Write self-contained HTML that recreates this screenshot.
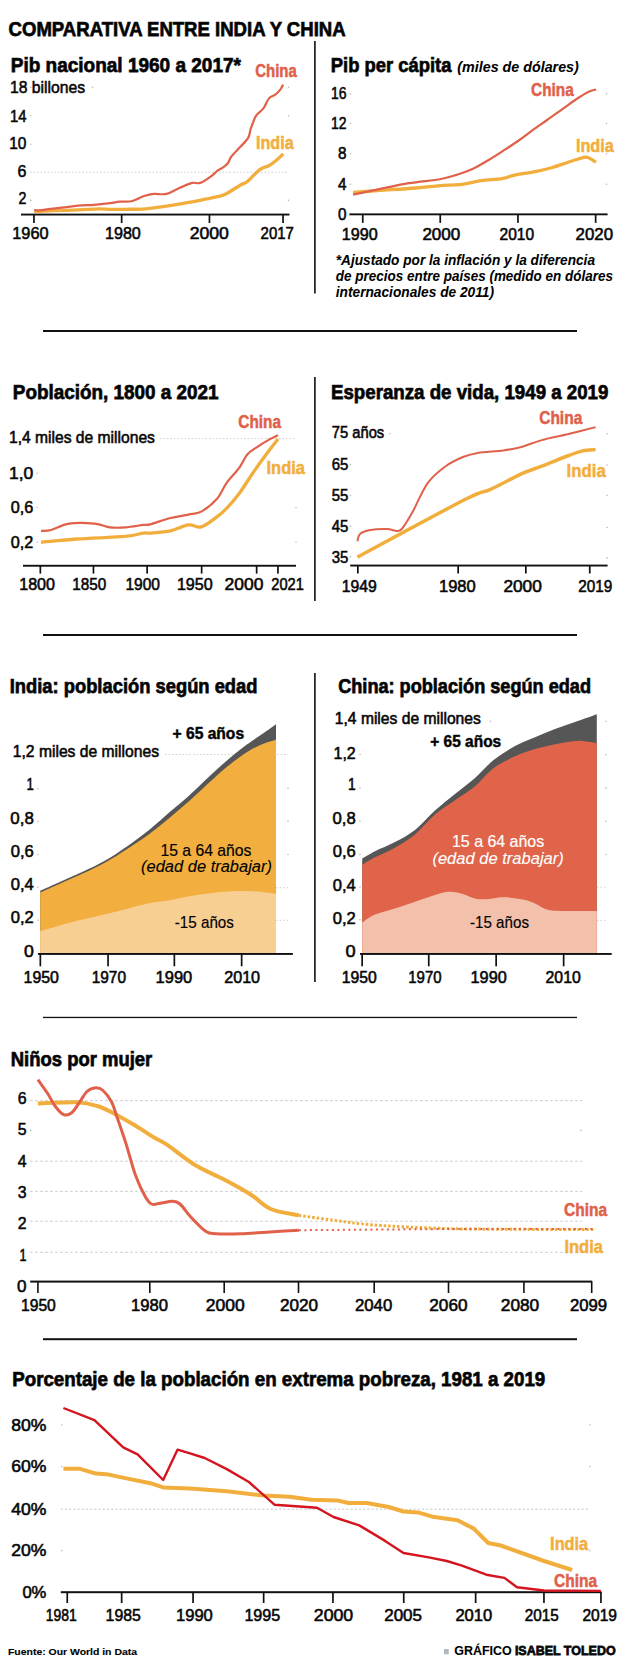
<!DOCTYPE html>
<html><head><meta charset="utf-8"><style>
html,body{margin:0;padding:0;background:#fff;}
svg{display:block;}
text{font-family:"Liberation Sans",sans-serif;}
</style></head><body>
<svg width="625" height="1667" viewBox="0 0 625 1667">
<rect width="625" height="1667" fill="#fff"/>
<text x="8.6" y="36.3" font-size="20.29" font-weight="700" textLength="337.0" lengthAdjust="spacingAndGlyphs" stroke="#111" stroke-width="0.75">COMPARATIVA ENTRE INDIA Y CHINA</text>
<rect x="314.1" y="41.0" width="1.6" height="252.5" fill="#111"/>
<rect x="43.0" y="330.0" width="534.0" height="2.0" fill="#111"/>
<rect x="314.1" y="377.0" width="1.6" height="224.0" fill="#111"/>
<rect x="43.0" y="634.0" width="534.0" height="2.0" fill="#111"/>
<rect x="314.1" y="673.0" width="1.6" height="309.0" fill="#111"/>
<rect x="43.0" y="1016.8" width="534.0" height="1.3" fill="#111"/>
<rect x="43.0" y="1338.2" width="534.0" height="2.0" fill="#111"/>
<text x="10.8" y="71.8" font-size="20.87" font-weight="700" textLength="230.1" lengthAdjust="spacingAndGlyphs" stroke="#111" stroke-width="0.75">Pib nacional 1960 a 2017*</text>
<text x="9.9" y="93.4" font-size="17.39" font-weight="400" textLength="75.2" lengthAdjust="spacingAndGlyphs" stroke="#111" stroke-width="0.6">18 billones</text>
<text x="9.9" y="122.1" font-size="17.10" font-weight="400" textLength="16.5" lengthAdjust="spacingAndGlyphs" stroke="#111" stroke-width="0.6">14</text>
<text x="9.2" y="149.0" font-size="17.10" font-weight="400" textLength="17.2" lengthAdjust="spacingAndGlyphs" stroke="#111" stroke-width="0.6">10</text>
<text x="17.5" y="176.8" font-size="17.10" font-weight="400" textLength="8.9" lengthAdjust="spacingAndGlyphs" stroke="#111" stroke-width="0.6">6</text>
<text x="18.5" y="204.1" font-size="17.10" font-weight="400" textLength="7.9" lengthAdjust="spacingAndGlyphs" stroke="#111" stroke-width="0.6">2</text>
<line x1="30" y1="172.3" x2="289" y2="172.3" stroke="#c4c4c4" stroke-width="0.8" stroke-dasharray="1.5,2"/>
<circle cx="30.7" cy="87.3" r="0.8" fill="#bbb"/>
<circle cx="30.7" cy="115.8" r="0.8" fill="#bbb"/>
<circle cx="30.7" cy="144.3" r="0.8" fill="#bbb"/>
<circle cx="30.7" cy="200.4" r="0.8" fill="#bbb"/>
<circle cx="288.5" cy="87.3" r="0.8" fill="#bbb"/>
<circle cx="288.5" cy="115.8" r="0.8" fill="#bbb"/>
<circle cx="288.5" cy="144.3" r="0.8" fill="#bbb"/>
<circle cx="288.5" cy="200.4" r="0.8" fill="#bbb"/>
<circle cx="92.5" cy="87.3" r="0.8" fill="#bbb"/>
<rect x="21.0" y="213.6" width="268.5" height="1.9" fill="#111"/>
<rect x="33.1" y="214.5" width="1.7" height="8.5" fill="#111"/>
<rect x="120.8" y="214.5" width="1.7" height="8.5" fill="#111"/>
<rect x="208.6" y="214.5" width="1.7" height="8.5" fill="#111"/>
<rect x="282.2" y="214.5" width="1.7" height="8.5" fill="#111"/>
<text x="12.3" y="238.8" font-size="16.52" font-weight="400" textLength="36.3" lengthAdjust="spacingAndGlyphs" stroke="#111" stroke-width="0.6">1960</text>
<text x="105.0" y="238.8" font-size="16.52" font-weight="400" textLength="35.8" lengthAdjust="spacingAndGlyphs" stroke="#111" stroke-width="0.6">1980</text>
<text x="189.7" y="238.8" font-size="16.52" font-weight="400" textLength="39.2" lengthAdjust="spacingAndGlyphs" stroke="#111" stroke-width="0.6">2000</text>
<text x="260.6" y="238.8" font-size="16.52" font-weight="400" textLength="33.3" lengthAdjust="spacingAndGlyphs" stroke="#111" stroke-width="0.6">2017</text>
<path d="M34.2,211.7 C37.5,211.5 46.7,211.0 54.0,210.7 C61.3,210.4 70.5,210.2 78.0,209.9 C85.5,209.6 93.5,208.9 98.8,208.8 C104.1,208.7 105.6,209.2 110.0,209.3 C114.4,209.4 119.0,209.4 125.0,209.3 C131.0,209.2 139.1,209.3 145.8,208.8 C152.5,208.3 157.8,207.5 165.0,206.4 C172.2,205.3 182.3,203.6 189.0,202.4 C195.7,201.2 200.2,200.2 205.0,199.2 C209.8,198.2 214.4,197.4 217.8,196.6 C221.2,195.8 221.4,196.2 225.2,194.3 C229.0,192.4 237.0,187.1 240.6,185.0 C244.2,182.9 243.8,184.4 247.0,181.8 C250.2,179.2 256.2,172.3 259.8,169.6 C263.4,166.9 266.2,167.2 268.8,165.8 C271.4,164.4 272.8,163.3 275.2,161.3 C277.6,159.3 281.9,155.1 283.2,153.8" fill="none" stroke="#f2ae3c" stroke-width="3.3" stroke-linejoin="round"/>
<path d="M34.2,210.1 C35.1,210.2 36.8,210.6 39.6,210.4 C42.4,210.2 47.1,209.2 50.8,208.8 C54.5,208.4 57.5,208.2 62.0,207.7 C66.5,207.2 72.7,206.1 78.0,205.6 C83.3,205.1 88.7,205.2 94.0,204.8 C99.3,204.4 105.7,203.7 110.0,203.2 C114.3,202.7 116.0,201.9 119.6,201.6 C123.2,201.3 127.3,202.2 131.4,201.3 C135.5,200.4 140.5,197.2 144.2,196.0 C147.9,194.8 150.1,194.2 153.8,193.9 C157.5,193.6 162.3,194.9 166.6,193.9 C170.9,192.9 175.1,189.8 179.4,188.0 C183.7,186.2 188.7,183.8 192.2,182.9 C195.7,182.1 197.0,184.1 200.2,182.9 C203.4,181.8 208.5,178.1 211.4,176.0 C214.3,173.9 215.9,171.8 217.8,170.4 C219.7,169.0 221.0,168.9 222.7,167.7 C224.4,166.5 226.3,165.1 227.8,163.2 C229.3,161.3 229.5,159.0 231.6,156.2 C233.7,153.4 237.8,149.7 240.6,146.6 C243.4,143.5 246.6,140.6 248.3,137.6 C250.0,134.6 249.5,132.2 250.8,128.6 C252.1,125.0 253.9,119.2 256.0,115.8 C258.1,112.4 261.5,111.1 263.6,108.2 C265.7,105.3 266.9,100.8 268.8,98.6 C270.7,96.3 273.3,96.2 275.2,94.7 C277.1,93.2 279.0,91.3 280.3,89.6 C281.6,87.9 282.7,85.4 283.2,84.6" fill="none" stroke="#e0604a" stroke-width="2.2" stroke-linejoin="round"/>
<text x="255.2" y="76.8" font-size="18.99" font-weight="700" textLength="41.6" lengthAdjust="spacingAndGlyphs" fill="#e0604a" stroke="#e0604a" stroke-width="0.5">China</text>
<text x="256.0" y="149.1" font-size="18.99" font-weight="700" textLength="37.7" lengthAdjust="spacingAndGlyphs" fill="#f2ae3c" stroke="#f2ae3c" stroke-width="0.5">India</text>
<text x="330.8" y="72.0" font-size="20.87" font-weight="700" textLength="120.7" lengthAdjust="spacingAndGlyphs" stroke="#111" stroke-width="0.75">Pib per cápita</text>
<text x="457.3" y="71.5" font-size="14.49" font-weight="700" font-style="italic" textLength="121.5" lengthAdjust="spacingAndGlyphs" stroke="#111" stroke-width="0.05">(miles de dólares)</text>
<text x="331.0" y="98.7" font-size="16.38" font-weight="400" textLength="15.5" lengthAdjust="spacingAndGlyphs" stroke="#111" stroke-width="0.6">16</text>
<text x="331.0" y="129.2" font-size="16.38" font-weight="400" textLength="15.5" lengthAdjust="spacingAndGlyphs" stroke="#111" stroke-width="0.6">12</text>
<text x="338.0" y="159.4" font-size="16.38" font-weight="400" textLength="8.5" lengthAdjust="spacingAndGlyphs" stroke="#111" stroke-width="0.6">8</text>
<text x="338.0" y="190.0" font-size="16.38" font-weight="400" textLength="8.5" lengthAdjust="spacingAndGlyphs" stroke="#111" stroke-width="0.6">4</text>
<text x="338.0" y="220.0" font-size="16.38" font-weight="400" textLength="8.5" lengthAdjust="spacingAndGlyphs" stroke="#111" stroke-width="0.6">0</text>
<circle cx="350.5" cy="93.9" r="0.8" fill="#bbb"/>
<circle cx="606.5" cy="93.9" r="0.8" fill="#bbb"/>
<circle cx="350.5" cy="123.5" r="0.8" fill="#bbb"/>
<circle cx="606.5" cy="123.5" r="0.8" fill="#bbb"/>
<circle cx="350.5" cy="153.7" r="0.8" fill="#bbb"/>
<circle cx="606.5" cy="153.7" r="0.8" fill="#bbb"/>
<circle cx="350.5" cy="184.3" r="0.8" fill="#bbb"/>
<circle cx="606.5" cy="184.3" r="0.8" fill="#bbb"/>
<rect x="349.4" y="213.4" width="258.2" height="1.9" fill="#111"/>
<rect x="361.9" y="214.4" width="1.7" height="8.5" fill="#111"/>
<rect x="439.4" y="214.4" width="1.7" height="8.5" fill="#111"/>
<rect x="517.1" y="214.4" width="1.7" height="8.5" fill="#111"/>
<rect x="594.8" y="214.4" width="1.7" height="8.5" fill="#111"/>
<text x="341.8" y="239.6" font-size="16.52" font-weight="400" textLength="35.8" lengthAdjust="spacingAndGlyphs" stroke="#111" stroke-width="0.6">1990</text>
<text x="422.4" y="239.6" font-size="16.52" font-weight="400" textLength="37.9" lengthAdjust="spacingAndGlyphs" stroke="#111" stroke-width="0.6">2000</text>
<text x="499.6" y="239.6" font-size="16.52" font-weight="400" textLength="34.5" lengthAdjust="spacingAndGlyphs" stroke="#111" stroke-width="0.6">2010</text>
<text x="575.6" y="239.6" font-size="16.52" font-weight="400" textLength="37.4" lengthAdjust="spacingAndGlyphs" stroke="#111" stroke-width="0.6">2020</text>
<path d="M353.1,192.3 C357.6,192.0 369.5,191.1 380.0,190.4 C390.5,189.7 406.0,188.8 416.0,188.0 C426.0,187.2 432.7,186.2 440.0,185.6 C447.3,185.0 453.1,185.4 460.0,184.6 C466.9,183.8 474.1,181.7 481.1,180.7 C488.1,179.7 496.5,179.6 502.2,178.6 C507.9,177.6 509.7,176.1 515.4,174.9 C521.1,173.7 530.4,172.6 536.6,171.4 C542.8,170.2 547.1,169.0 552.4,167.5 C557.7,166.0 562.9,163.9 568.2,162.2 C573.5,160.5 580.6,158.1 584.1,157.4 C587.6,156.7 587.4,157.4 589.4,158.2 C591.4,159.0 594.9,161.5 596.0,162.2" fill="none" stroke="#f2ae3c" stroke-width="3.3" stroke-linejoin="round"/>
<path d="M353.1,194.6 C357.1,193.8 367.7,191.5 377.0,189.6 C386.3,187.7 398.3,185.0 409.0,183.2 C419.7,181.4 432.5,180.6 441.0,179.0 C449.5,177.4 454.7,175.5 460.0,173.8 C465.3,172.1 468.2,171.1 473.0,168.8 C477.8,166.5 483.7,163.0 489.0,159.8 C494.3,156.6 499.9,152.9 505.0,149.6 C510.1,146.3 514.7,143.3 519.4,140.0 C524.1,136.7 528.4,133.1 533.0,129.8 C537.6,126.5 541.7,123.8 547.1,120.0 C552.5,116.2 560.3,110.5 565.6,106.8 C570.9,103.0 574.8,100.1 578.8,97.5 C582.8,94.9 586.5,92.7 589.4,91.4 C592.3,90.1 595.1,89.8 596.2,89.5" fill="none" stroke="#e0604a" stroke-width="2.2" stroke-linejoin="round"/>
<text x="531.1" y="95.6" font-size="18.84" font-weight="700" textLength="42.7" lengthAdjust="spacingAndGlyphs" fill="#e0604a" stroke="#e0604a" stroke-width="0.5">China</text>
<text x="575.9" y="152.4" font-size="18.84" font-weight="700" textLength="37.9" lengthAdjust="spacingAndGlyphs" fill="#f2ae3c" stroke="#f2ae3c" stroke-width="0.5">India</text>
<text x="335.8" y="265.4" font-size="14.93" font-weight="700" font-style="italic" textLength="259.2" lengthAdjust="spacingAndGlyphs" stroke="#111" stroke-width="0.05">*Ajustado por la inflación y la diferencia</text>
<text x="335.8" y="281.0" font-size="14.93" font-weight="700" font-style="italic" textLength="277.2" lengthAdjust="spacingAndGlyphs" stroke="#111" stroke-width="0.05">de precios entre países (medido en dólares</text>
<text x="335.8" y="296.5" font-size="14.93" font-weight="700" font-style="italic" textLength="158.2" lengthAdjust="spacingAndGlyphs" stroke="#111" stroke-width="0.05">internacionales de 2011)</text>
<text x="12.8" y="398.5" font-size="20.43" font-weight="700" textLength="205.8" lengthAdjust="spacingAndGlyphs" stroke="#111" stroke-width="0.75">Población, 1800 a 2021</text>
<text x="9.0" y="443.0" font-size="16.81" font-weight="400" textLength="145.9" lengthAdjust="spacingAndGlyphs" stroke="#111" stroke-width="0.6">1,4 miles de millones</text>
<line x1="160" y1="438.6" x2="296" y2="438.6" stroke="#c4c4c4" stroke-width="0.8" stroke-dasharray="1.5,2"/>
<text x="9.0" y="478.9" font-size="16.67" font-weight="400" textLength="24.3" lengthAdjust="spacingAndGlyphs" stroke="#111" stroke-width="0.6">1,0</text>
<circle cx="37.1" cy="473.2" r="0.8" fill="#bbb"/>
<circle cx="296" cy="473.2" r="0.8" fill="#bbb"/>
<text x="10.8" y="513.2" font-size="16.67" font-weight="400" textLength="22.5" lengthAdjust="spacingAndGlyphs" stroke="#111" stroke-width="0.6">0,6</text>
<circle cx="37.1" cy="507.5" r="0.8" fill="#bbb"/>
<circle cx="296" cy="507.5" r="0.8" fill="#bbb"/>
<text x="10.8" y="548.0" font-size="16.67" font-weight="400" textLength="22.5" lengthAdjust="spacingAndGlyphs" stroke="#111" stroke-width="0.6">0,2</text>
<circle cx="37.1" cy="542.3" r="0.8" fill="#bbb"/>
<circle cx="296" cy="542.3" r="0.8" fill="#bbb"/>
<rect x="23.0" y="564.8" width="273.0" height="1.9" fill="#111"/>
<rect x="39.5" y="565.6" width="1.7" height="8.0" fill="#111"/>
<rect x="92.6" y="565.6" width="1.7" height="8.0" fill="#111"/>
<rect x="146.3" y="565.6" width="1.7" height="8.0" fill="#111"/>
<rect x="200.8" y="565.6" width="1.7" height="8.0" fill="#111"/>
<rect x="255.8" y="565.6" width="1.7" height="8.0" fill="#111"/>
<rect x="277.1" y="565.6" width="1.7" height="8.0" fill="#111"/>
<text x="19.2" y="589.6" font-size="16.52" font-weight="400" textLength="35.8" lengthAdjust="spacingAndGlyphs" stroke="#111" stroke-width="0.6">1800</text>
<text x="72.2" y="589.6" font-size="16.52" font-weight="400" textLength="34.0" lengthAdjust="spacingAndGlyphs" stroke="#111" stroke-width="0.6">1850</text>
<text x="125.4" y="589.6" font-size="16.52" font-weight="400" textLength="34.6" lengthAdjust="spacingAndGlyphs" stroke="#111" stroke-width="0.6">1900</text>
<text x="176.9" y="589.6" font-size="16.52" font-weight="400" textLength="35.8" lengthAdjust="spacingAndGlyphs" stroke="#111" stroke-width="0.6">1950</text>
<text x="224.6" y="589.6" font-size="16.52" font-weight="400" textLength="38.8" lengthAdjust="spacingAndGlyphs" stroke="#111" stroke-width="0.6">2000</text>
<text x="271.3" y="589.6" font-size="16.52" font-weight="400" textLength="32.6" lengthAdjust="spacingAndGlyphs" stroke="#111" stroke-width="0.6">2021</text>
<path d="M41.0,542.3 C47.0,541.8 62.7,540.0 76.8,539.0 C90.9,538.0 114.3,537.4 125.4,536.4 C136.5,535.4 139.3,533.6 143.4,533.1 C147.5,532.6 145.5,533.5 150.0,533.1 C154.5,532.7 164.1,532.2 170.5,530.8 C176.9,529.4 183.3,525.5 188.4,524.9 C193.5,524.2 196.5,528.2 201.2,526.9 C205.9,525.6 212.3,520.3 216.6,517.2 C220.9,514.1 223.0,512.2 226.8,508.2 C230.6,504.1 235.3,498.6 239.6,492.9 C243.9,487.1 248.1,479.9 252.4,473.7 C256.7,467.5 260.9,461.6 265.2,455.8 C269.5,450.0 275.9,441.9 278.0,439.1" fill="none" stroke="#f2ae3c" stroke-width="3.3" stroke-linejoin="round"/>
<path d="M41.0,530.8 C42.7,530.7 46.5,531.2 51.2,530.0 C55.9,528.8 61.8,524.7 69.1,523.6 C76.3,522.5 87.9,523.0 94.7,523.6 C101.5,524.2 105.0,526.8 110.1,527.4 C115.2,528.0 119.9,527.8 125.4,527.4 C131.0,527.0 139.3,525.4 143.4,524.9 C147.5,524.4 145.5,525.5 150.0,524.4 C154.5,523.2 164.1,519.6 170.5,518.0 C176.9,516.4 183.3,515.7 188.4,514.6 C193.5,513.5 196.5,514.1 201.2,511.6 C205.9,509.1 212.3,504.1 216.6,499.3 C220.9,494.5 223.0,487.9 226.8,482.6 C230.6,477.3 236.2,472.0 239.6,467.3 C243.0,462.6 244.3,457.9 247.3,454.5 C250.3,451.1 254.1,449.2 257.5,446.8 C260.9,444.4 264.4,442.3 267.8,440.4 C271.2,438.5 276.3,436.1 278.0,435.3" fill="none" stroke="#e0604a" stroke-width="2.2" stroke-linejoin="round"/>
<text x="238.3" y="427.8" font-size="18.84" font-weight="700" textLength="42.7" lengthAdjust="spacingAndGlyphs" fill="#e0604a" stroke="#e0604a" stroke-width="0.5">China</text>
<text x="266.5" y="474.0" font-size="18.84" font-weight="700" textLength="38.5" lengthAdjust="spacingAndGlyphs" fill="#f2ae3c" stroke="#f2ae3c" stroke-width="0.5">India</text>
<text x="331.0" y="399.0" font-size="20.43" font-weight="700" textLength="277.4" lengthAdjust="spacingAndGlyphs" stroke="#111" stroke-width="0.75">Esperanza de vida, 1949 a 2019</text>
<text x="331.8" y="438.0" font-size="15.94" font-weight="400" textLength="52.4" lengthAdjust="spacingAndGlyphs" stroke="#111" stroke-width="0.6">75 años</text>
<circle cx="389.9" cy="433.7" r="0.8" fill="#bbb"/>
<text x="331.8" y="470.1" font-size="16.23" font-weight="400" textLength="16.6" lengthAdjust="spacingAndGlyphs" stroke="#111" stroke-width="0.6">65</text>
<circle cx="350.5" cy="464.5" r="0.8" fill="#bbb"/>
<text x="331.8" y="500.9" font-size="16.23" font-weight="400" textLength="16.6" lengthAdjust="spacingAndGlyphs" stroke="#111" stroke-width="0.6">55</text>
<circle cx="350.5" cy="495.3" r="0.8" fill="#bbb"/>
<text x="331.8" y="531.7" font-size="16.23" font-weight="400" textLength="16.6" lengthAdjust="spacingAndGlyphs" stroke="#111" stroke-width="0.6">45</text>
<circle cx="350.5" cy="526.1" r="0.8" fill="#bbb"/>
<text x="331.8" y="562.5" font-size="16.23" font-weight="400" textLength="16.6" lengthAdjust="spacingAndGlyphs" stroke="#111" stroke-width="0.6">35</text>
<circle cx="350.5" cy="556.9" r="0.8" fill="#bbb"/>
<circle cx="607" cy="433.7" r="0.8" fill="#bbb"/>
<circle cx="607" cy="465" r="0.8" fill="#bbb"/>
<circle cx="607" cy="495.3" r="0.8" fill="#bbb"/>
<circle cx="607" cy="527.5" r="0.8" fill="#bbb"/>
<circle cx="607" cy="557.9" r="0.8" fill="#bbb"/>
<rect x="350.2" y="564.6" width="257.4" height="1.9" fill="#111"/>
<rect x="357.0" y="565.5" width="1.7" height="8.0" fill="#111"/>
<rect x="457.3" y="565.5" width="1.7" height="8.0" fill="#111"/>
<rect x="525.0" y="565.5" width="1.7" height="8.0" fill="#111"/>
<rect x="588.9" y="565.5" width="1.7" height="8.0" fill="#111"/>
<text x="341.8" y="591.8" font-size="16.52" font-weight="400" textLength="35.0" lengthAdjust="spacingAndGlyphs" stroke="#111" stroke-width="0.6">1949</text>
<text x="439.0" y="591.8" font-size="16.52" font-weight="400" textLength="36.7" lengthAdjust="spacingAndGlyphs" stroke="#111" stroke-width="0.6">1980</text>
<text x="503.4" y="591.8" font-size="16.52" font-weight="400" textLength="38.4" lengthAdjust="spacingAndGlyphs" stroke="#111" stroke-width="0.6">2000</text>
<text x="578.2" y="591.8" font-size="16.52" font-weight="400" textLength="34.0" lengthAdjust="spacingAndGlyphs" stroke="#111" stroke-width="0.6">2019</text>
<path d="M357.4,557.1 C375.3,547.5 442.8,510.8 465.0,499.5 C487.2,488.2 481.2,493.6 490.6,489.3 C500.0,485.0 512.8,477.8 521.3,473.9 C529.8,470.0 534.1,469.2 541.8,466.2 C549.5,463.2 560.6,458.6 567.4,456.0 C574.2,453.4 578.1,452.0 582.8,450.9 C587.5,449.8 593.5,449.8 595.6,449.6" fill="none" stroke="#f2ae3c" stroke-width="3.5" stroke-linejoin="round"/>
<path d="M357.4,541.3 C357.8,540.1 358.0,536.0 359.9,534.1 C361.8,532.2 364.4,531.1 368.9,530.2 C373.4,529.4 382.1,528.9 386.8,529.0 C391.5,529.1 394.4,531.1 397.0,531.0 C399.6,530.9 399.6,531.6 402.2,528.5 C404.8,525.4 408.1,519.9 412.4,512.3 C416.7,504.7 422.2,490.6 427.8,482.9 C433.4,475.2 439.7,470.5 445.7,466.2 C451.7,461.9 458.2,459.0 463.6,456.8 C469.0,454.6 471.2,454.0 477.8,452.9 C484.4,451.8 496.1,451.4 503.4,450.4 C510.6,449.4 514.9,448.7 521.3,447.0 C527.7,445.3 534.1,442.2 541.8,440.1 C549.5,438.0 558.4,436.4 567.4,434.2 C576.4,432.0 590.9,428.3 595.6,427.1" fill="none" stroke="#e0604a" stroke-width="2" stroke-linejoin="round"/>
<text x="539.2" y="424.2" font-size="18.84" font-weight="700" textLength="43.1" lengthAdjust="spacingAndGlyphs" fill="#e0604a" stroke="#e0604a" stroke-width="0.5">China</text>
<text x="566.6" y="476.6" font-size="18.84" font-weight="700" textLength="39.2" lengthAdjust="spacingAndGlyphs" fill="#f2ae3c" stroke="#f2ae3c" stroke-width="0.5">India</text>
<text x="9.7" y="692.8" font-size="20.43" font-weight="700" textLength="247.8" lengthAdjust="spacingAndGlyphs" stroke="#111" stroke-width="0.75">India: población según edad</text>
<text x="12.8" y="757.0" font-size="16.81" font-weight="400" textLength="146.2" lengthAdjust="spacingAndGlyphs" stroke="#111" stroke-width="0.6">1,2 miles de millones</text>
<line x1="165" y1="754.5" x2="288.2" y2="754.5" stroke="#c4c4c4" stroke-width="0.8" stroke-dasharray="1.5,2"/>
<text x="26.5" y="790.0" font-size="16.81" font-weight="400" textLength="7.3" lengthAdjust="spacingAndGlyphs" stroke="#111" stroke-width="0.6">1</text>
<text x="10.3" y="823.6" font-size="16.81" font-weight="400" textLength="23.5" lengthAdjust="spacingAndGlyphs" stroke="#111" stroke-width="0.6">0,8</text>
<text x="10.8" y="856.7" font-size="16.81" font-weight="400" textLength="23.0" lengthAdjust="spacingAndGlyphs" stroke="#111" stroke-width="0.6">0,6</text>
<text x="10.8" y="889.7" font-size="16.81" font-weight="400" textLength="23.0" lengthAdjust="spacingAndGlyphs" stroke="#111" stroke-width="0.6">0,4</text>
<text x="10.8" y="923.4" font-size="16.81" font-weight="400" textLength="23.0" lengthAdjust="spacingAndGlyphs" stroke="#111" stroke-width="0.6">0,2</text>
<text x="24.0" y="957.0" font-size="16.81" font-weight="400" textLength="9.8" lengthAdjust="spacingAndGlyphs" stroke="#111" stroke-width="0.6">0</text>
<circle cx="37.9" cy="788.8" r="0.8" fill="#bbb"/>
<circle cx="37.9" cy="821.8" r="0.8" fill="#bbb"/>
<circle cx="37.9" cy="854.5" r="0.8" fill="#bbb"/>
<circle cx="37.9" cy="887.2" r="0.8" fill="#bbb"/>
<circle cx="37.9" cy="920.3" r="0.8" fill="#bbb"/>
<circle cx="288" cy="788.4" r="0.8" fill="#bbb"/>
<circle cx="288" cy="821" r="0.8" fill="#bbb"/>
<circle cx="288" cy="854.5" r="0.8" fill="#bbb"/>
<line x1="276" y1="887.7" x2="288" y2="887.7" stroke="#c4c4c4" stroke-width="0.8" stroke-dasharray="1.5,2"/>
<line x1="276" y1="920.3" x2="288" y2="920.3" stroke="#c4c4c4" stroke-width="0.8" stroke-dasharray="1.5,2"/>
<path d="M40.2,890.8 C43.6,889.3 53.3,885.0 60.4,881.8 C67.5,878.6 75.3,875.3 82.8,871.8 C90.3,868.3 97.7,864.9 105.2,860.6 C112.7,856.3 120.1,851.2 127.6,846.0 C135.1,840.8 142.9,834.9 150.0,829.2 C157.1,823.5 163.5,817.4 170.0,811.8 C176.5,806.2 182.8,801.2 189.2,795.4 C195.6,789.6 202.0,783.1 208.4,777.2 C214.8,771.3 221.2,765.3 227.6,759.9 C234.0,754.5 241.0,748.9 246.8,744.6 C252.6,740.3 257.3,737.4 262.2,734.0 C267.1,730.6 273.7,725.8 276.0,724.2 L276.0,953.5 L40.2,953.5 Z" fill="#565656"/>
<path d="M40.2,892.6 C43.6,891.1 53.3,886.8 60.4,883.6 C67.5,880.4 75.3,877.1 82.8,873.6 C90.3,870.1 97.7,866.7 105.2,862.6 C112.7,858.5 120.1,853.6 127.6,848.8 C135.1,843.9 142.9,838.7 150.0,833.5 C157.1,828.3 163.5,822.9 170.0,817.5 C176.5,812.1 182.8,806.7 189.2,801.0 C195.6,795.3 202.0,789.1 208.4,783.3 C214.8,777.5 221.2,771.5 227.6,766.3 C234.0,761.1 241.0,756.0 246.8,752.3 C252.6,748.6 257.3,746.4 262.2,744.3 C267.1,742.2 273.7,740.5 276.0,739.8 L276.0,953.5 L40.2,953.5 Z" fill="#f2ae3e"/>
<path d="M40.2,931.1 C45.4,929.6 60.8,925.0 71.6,922.2 C82.4,919.4 95.9,916.5 105.2,914.3 C114.5,912.0 120.1,910.6 127.6,908.7 C135.1,906.8 142.9,904.5 150.0,903.1 C157.1,901.7 163.5,901.3 170.0,900.2 C176.5,899.1 182.8,897.4 189.2,896.3 C195.6,895.2 202.0,894.2 208.4,893.4 C214.8,892.6 221.2,891.9 227.6,891.5 C234.0,891.1 241.0,891.0 246.8,891.1 C252.6,891.2 257.3,891.5 262.2,892.0 C267.1,892.5 273.7,893.7 276.0,894.0 L276.0,953.5 L40.2,953.5 Z" fill="#f8cf92"/>
<rect x="37.9" y="953.0" width="255.0" height="1.9" fill="#111"/>
<rect x="39.5" y="953.8" width="1.7" height="12.5" fill="#111"/>
<rect x="107.2" y="953.8" width="1.7" height="12.5" fill="#111"/>
<rect x="173.5" y="953.8" width="1.7" height="12.5" fill="#111"/>
<rect x="240.8" y="953.8" width="1.7" height="12.5" fill="#111"/>
<text x="23.6" y="982.8" font-size="16.52" font-weight="400" textLength="35.3" lengthAdjust="spacingAndGlyphs" stroke="#111" stroke-width="0.6">1950</text>
<text x="91.7" y="982.8" font-size="16.52" font-weight="400" textLength="34.3" lengthAdjust="spacingAndGlyphs" stroke="#111" stroke-width="0.6">1970</text>
<text x="155.6" y="982.8" font-size="16.52" font-weight="400" textLength="36.6" lengthAdjust="spacingAndGlyphs" stroke="#111" stroke-width="0.6">1990</text>
<text x="224.2" y="982.8" font-size="16.52" font-weight="400" textLength="35.9" lengthAdjust="spacingAndGlyphs" stroke="#111" stroke-width="0.6">2010</text>
<text x="172.5" y="738.5" font-size="15.65" font-weight="700" textLength="71.6" lengthAdjust="spacingAndGlyphs" stroke="#111" stroke-width="0.5">+ 65 años</text>
<text x="160.4" y="855.9" font-size="16.96" font-weight="400" textLength="91.1" lengthAdjust="spacingAndGlyphs" stroke="#111" stroke-width="0.2">15 a 64 años</text>
<text x="141.0" y="872.3" font-size="16.23" font-weight="400" font-style="italic" textLength="131.0" lengthAdjust="spacingAndGlyphs" stroke="#111" stroke-width="0.1">(edad de trabajar)</text>
<text x="174.8" y="928.0" font-size="16.96" font-weight="400" textLength="59.1" lengthAdjust="spacingAndGlyphs" stroke="#111" stroke-width="0.2">-15 años</text>
<text x="338.2" y="692.6" font-size="20.43" font-weight="700" textLength="252.8" lengthAdjust="spacingAndGlyphs" stroke="#111" stroke-width="0.75">China: población según edad</text>
<text x="334.8" y="724.0" font-size="16.23" font-weight="400" textLength="146.0" lengthAdjust="spacingAndGlyphs" stroke="#111" stroke-width="0.6">1,4 miles de millones</text>
<circle cx="490.4" cy="721.2" r="0.8" fill="#bbb"/>
<text x="333.5" y="758.7" font-size="16.81" font-weight="400" textLength="22.2" lengthAdjust="spacingAndGlyphs" stroke="#111" stroke-width="0.6">1,2</text>
<text x="348.0" y="789.6" font-size="16.81" font-weight="400" textLength="7.7" lengthAdjust="spacingAndGlyphs" stroke="#111" stroke-width="0.6">1</text>
<text x="332.5" y="824.3" font-size="16.81" font-weight="400" textLength="23.2" lengthAdjust="spacingAndGlyphs" stroke="#111" stroke-width="0.6">0,8</text>
<text x="332.7" y="856.8" font-size="16.81" font-weight="400" textLength="23.0" lengthAdjust="spacingAndGlyphs" stroke="#111" stroke-width="0.6">0,6</text>
<text x="332.7" y="890.6" font-size="16.81" font-weight="400" textLength="23.0" lengthAdjust="spacingAndGlyphs" stroke="#111" stroke-width="0.6">0,4</text>
<text x="332.7" y="923.7" font-size="16.81" font-weight="400" textLength="23.0" lengthAdjust="spacingAndGlyphs" stroke="#111" stroke-width="0.6">0,2</text>
<text x="345.6" y="956.9" font-size="16.81" font-weight="400" textLength="10.1" lengthAdjust="spacingAndGlyphs" stroke="#111" stroke-width="0.6">0</text>
<circle cx="360" cy="754.5" r="0.8" fill="#bbb"/>
<circle cx="360" cy="788" r="0.8" fill="#bbb"/>
<circle cx="360" cy="821.3" r="0.8" fill="#bbb"/>
<circle cx="360" cy="854.5" r="0.8" fill="#bbb"/>
<circle cx="360" cy="887" r="0.8" fill="#bbb"/>
<circle cx="360" cy="919.8" r="0.8" fill="#bbb"/>
<circle cx="606" cy="721.2" r="0.8" fill="#bbb"/>
<circle cx="606" cy="754.7" r="0.8" fill="#bbb"/>
<circle cx="606" cy="787.9" r="0.8" fill="#bbb"/>
<circle cx="606" cy="821.3" r="0.8" fill="#bbb"/>
<circle cx="606" cy="854.5" r="0.8" fill="#bbb"/>
<line x1="597" y1="887.2" x2="606" y2="887.2" stroke="#c4c4c4" stroke-width="0.8" stroke-dasharray="1.5,2"/>
<line x1="597" y1="920.6" x2="606" y2="920.6" stroke="#c4c4c4" stroke-width="0.8" stroke-dasharray="1.5,2"/>
<path d="M362.2,858.5 C364.3,857.3 369.5,854.0 375.0,851.2 C380.5,848.5 388.3,845.5 395.0,842.0 C401.7,838.5 408.3,835.2 415.0,830.0 C421.7,824.8 428.3,816.5 435.0,810.5 C441.7,804.5 448.3,799.4 455.0,794.0 C461.7,788.6 468.7,783.6 475.0,778.0 C481.3,772.4 486.3,765.8 493.0,760.5 C499.7,755.2 508.0,749.9 515.0,746.0 C522.0,742.1 528.3,740.0 535.0,737.2 C541.7,734.4 548.3,731.5 555.0,729.0 C561.7,726.5 568.0,724.5 575.0,722.0 C582.0,719.5 593.2,715.5 596.8,714.2 L596.8,953.5 L362.2,953.5 Z" fill="#565656"/>
<path d="M362.2,864.8 C364.3,863.5 369.5,860.1 375.0,857.3 C380.5,854.4 388.3,851.5 395.0,847.7 C401.7,843.9 408.3,840.0 415.0,834.5 C421.7,829.0 428.3,820.2 435.0,814.5 C441.7,808.8 448.3,805.0 455.0,800.3 C461.7,795.6 468.7,791.6 475.0,786.3 C481.3,781.0 486.3,773.5 493.0,768.5 C499.7,763.5 508.0,759.5 515.0,756.3 C522.0,753.0 528.3,751.0 535.0,749.0 C541.7,747.0 548.3,745.5 555.0,744.2 C561.7,742.9 570.3,741.5 575.0,741.0 C579.7,740.5 579.4,740.6 583.0,740.9 C586.6,741.2 594.5,742.6 596.8,743.0 L596.8,953.5 L362.2,953.5 Z" fill="#e0644a"/>
<path d="M362.2,922.5 C364.3,921.2 369.5,916.8 375.0,914.5 C380.5,912.2 388.3,910.6 395.0,908.5 C401.7,906.4 408.3,904.0 415.0,901.8 C421.7,899.5 429.3,896.7 435.0,895.0 C440.7,893.3 444.7,892.0 449.0,891.8 C453.3,891.5 456.7,892.4 461.0,893.5 C465.3,894.6 470.7,897.5 475.0,898.5 C479.3,899.5 482.3,899.4 487.0,899.2 C491.7,899.0 497.0,897.2 503.0,897.2 C509.0,897.2 517.7,898.5 523.0,899.5 C528.3,900.5 531.0,901.8 535.0,903.5 C539.0,905.2 542.3,908.2 547.0,909.5 C551.7,910.8 554.7,910.8 563.0,911.0 C571.3,911.2 591.2,911.0 596.8,911.0 L596.8,953.5 L362.2,953.5 Z" fill="#f3c1ab"/>
<rect x="360.0" y="953.0" width="251.7" height="1.9" fill="#111"/>
<rect x="361.3" y="953.8" width="1.7" height="12.5" fill="#111"/>
<rect x="427.9" y="953.8" width="1.7" height="12.5" fill="#111"/>
<rect x="495.3" y="953.8" width="1.7" height="12.5" fill="#111"/>
<rect x="562.8" y="953.8" width="1.7" height="12.5" fill="#111"/>
<text x="341.8" y="982.8" font-size="16.52" font-weight="400" textLength="35.0" lengthAdjust="spacingAndGlyphs" stroke="#111" stroke-width="0.6">1950</text>
<text x="408.3" y="982.8" font-size="16.52" font-weight="400" textLength="33.3" lengthAdjust="spacingAndGlyphs" stroke="#111" stroke-width="0.6">1970</text>
<text x="470.6" y="982.8" font-size="16.52" font-weight="400" textLength="36.1" lengthAdjust="spacingAndGlyphs" stroke="#111" stroke-width="0.6">1990</text>
<text x="545.6" y="982.8" font-size="16.52" font-weight="400" textLength="35.1" lengthAdjust="spacingAndGlyphs" stroke="#111" stroke-width="0.6">2010</text>
<text x="430.3" y="746.8" font-size="15.94" font-weight="700" textLength="70.9" lengthAdjust="spacingAndGlyphs" stroke="#111" stroke-width="0.5">+ 65 años</text>
<text x="452.0" y="847.4" font-size="16.96" font-weight="400" textLength="92.2" lengthAdjust="spacingAndGlyphs" fill="#fff" stroke="#fff" stroke-width="0.2">15 a 64 años</text>
<text x="432.4" y="863.8" font-size="16.23" font-weight="400" font-style="italic" textLength="131.4" lengthAdjust="spacingAndGlyphs" fill="#fff" stroke="#fff" stroke-width="0.1">(edad de trabajar)</text>
<text x="470.0" y="928.0" font-size="16.96" font-weight="400" textLength="59.0" lengthAdjust="spacingAndGlyphs" stroke="#111" stroke-width="0.2">-15 años</text>
<text x="10.8" y="1065.7" font-size="20.43" font-weight="700" textLength="141.5" lengthAdjust="spacingAndGlyphs" stroke="#111" stroke-width="0.75">Niños por mujer</text>
<line x1="30.2" y1="1100.6" x2="582" y2="1100.6" stroke="#c4c4c4" stroke-width="0.9" stroke-dasharray="2.5,2.5"/>
<line x1="30.2" y1="1161.2" x2="582" y2="1161.2" stroke="#c4c4c4" stroke-width="0.9" stroke-dasharray="2.5,2.5"/>
<line x1="30.2" y1="1191.4" x2="582" y2="1191.4" stroke="#c4c4c4" stroke-width="0.9" stroke-dasharray="2.5,2.5"/>
<line x1="30.2" y1="1221.2" x2="582" y2="1221.2" stroke="#c4c4c4" stroke-width="0.9" stroke-dasharray="2.5,2.5"/>
<line x1="30.2" y1="1252.3" x2="582" y2="1252.3" stroke="#c4c4c4" stroke-width="0.9" stroke-dasharray="2.5,2.5"/>
<circle cx="30.7" cy="1130.4" r="0.8" fill="#bbb"/>
<text x="17.7" y="1103.9" font-size="17.39" font-weight="400" textLength="8.8" lengthAdjust="spacingAndGlyphs" stroke="#111" stroke-width="0.6">6</text>
<text x="17.7" y="1134.8" font-size="17.39" font-weight="400" textLength="8.8" lengthAdjust="spacingAndGlyphs" stroke="#111" stroke-width="0.6">5</text>
<text x="17.7" y="1167.0" font-size="17.39" font-weight="400" textLength="8.8" lengthAdjust="spacingAndGlyphs" stroke="#111" stroke-width="0.6">4</text>
<text x="17.7" y="1197.9" font-size="17.39" font-weight="400" textLength="8.8" lengthAdjust="spacingAndGlyphs" stroke="#111" stroke-width="0.6">3</text>
<text x="17.7" y="1228.8" font-size="17.39" font-weight="400" textLength="8.8" lengthAdjust="spacingAndGlyphs" stroke="#111" stroke-width="0.6">2</text>
<text x="19.5" y="1260.9" font-size="17.39" font-weight="400" textLength="7.0" lengthAdjust="spacingAndGlyphs" stroke="#111" stroke-width="0.6">1</text>
<text x="17.0" y="1291.8" font-size="17.39" font-weight="400" textLength="9.5" lengthAdjust="spacingAndGlyphs" stroke="#111" stroke-width="0.6">0</text>
<rect x="30.2" y="1280.6" width="561.8" height="2.0" fill="#111"/>
<rect x="37.1" y="1281.0" width="1.6" height="12.0" fill="#111"/>
<rect x="149.0" y="1281.0" width="1.6" height="12.0" fill="#111"/>
<rect x="223.4" y="1281.0" width="1.6" height="12.0" fill="#111"/>
<rect x="297.7" y="1281.0" width="1.6" height="12.0" fill="#111"/>
<rect x="373.4" y="1281.0" width="1.6" height="12.0" fill="#111"/>
<rect x="447.7" y="1281.0" width="1.6" height="12.0" fill="#111"/>
<rect x="523.1" y="1281.0" width="1.6" height="12.0" fill="#111"/>
<rect x="590.9" y="1281.0" width="1.6" height="12.0" fill="#111"/>
<text x="21.0" y="1311.2" font-size="16.52" font-weight="400" textLength="34.8" lengthAdjust="spacingAndGlyphs" stroke="#111" stroke-width="0.6">1950</text>
<text x="131.0" y="1311.2" font-size="16.52" font-weight="400" textLength="37.0" lengthAdjust="spacingAndGlyphs" stroke="#111" stroke-width="0.6">1980</text>
<text x="205.8" y="1311.2" font-size="16.52" font-weight="400" textLength="38.9" lengthAdjust="spacingAndGlyphs" stroke="#111" stroke-width="0.6">2000</text>
<text x="280.0" y="1311.2" font-size="16.52" font-weight="400" textLength="38.0" lengthAdjust="spacingAndGlyphs" stroke="#111" stroke-width="0.6">2020</text>
<text x="355.0" y="1311.2" font-size="16.52" font-weight="400" textLength="37.2" lengthAdjust="spacingAndGlyphs" stroke="#111" stroke-width="0.6">2040</text>
<text x="429.3" y="1311.2" font-size="16.52" font-weight="400" textLength="38.2" lengthAdjust="spacingAndGlyphs" stroke="#111" stroke-width="0.6">2060</text>
<text x="500.8" y="1311.2" font-size="16.52" font-weight="400" textLength="38.4" lengthAdjust="spacingAndGlyphs" stroke="#111" stroke-width="0.6">2080</text>
<text x="570.0" y="1311.2" font-size="16.52" font-weight="400" textLength="37.1" lengthAdjust="spacingAndGlyphs" stroke="#111" stroke-width="0.6">2099</text>
<path d="M37.9,1103.5 C44.4,1103.3 66.9,1101.8 76.8,1102.2 C86.7,1102.6 90.9,1104.0 97.3,1106.0 C103.7,1108.0 108.8,1110.9 115.2,1114.2 C121.6,1117.5 129.3,1122.0 135.7,1125.8 C142.1,1129.6 148.4,1134.2 153.6,1137.3 C158.8,1140.4 160.0,1140.0 166.9,1144.6 C173.8,1149.2 185.6,1159.2 195.0,1165.0 C204.4,1170.8 213.8,1174.1 223.2,1179.1 C232.6,1184.1 243.5,1190.0 251.4,1195.0 C259.3,1200.0 262.8,1205.6 270.7,1209.0 C278.6,1212.4 294.2,1214.3 298.9,1215.4" fill="none" stroke="#f2ae3c" stroke-width="4" stroke-linejoin="round"/>
<path d="M37.9,1079.7 C39.6,1082.1 45.1,1089.6 48.0,1094.0 C50.9,1098.4 52.4,1102.6 55.0,1106.0 C57.6,1109.4 60.8,1113.5 63.6,1114.6 C66.4,1115.7 69.3,1114.7 72.0,1112.5 C74.7,1110.3 77.5,1105.0 80.0,1101.5 C82.5,1098.0 84.4,1093.8 87.0,1091.5 C89.6,1089.2 92.9,1088.0 95.6,1087.8 C98.3,1087.6 100.3,1088.1 103.0,1090.5 C105.7,1092.9 109.1,1097.1 111.6,1102.0 C114.1,1106.9 115.6,1113.1 118.0,1120.0 C120.4,1126.9 123.1,1134.3 126.0,1143.6 C128.9,1152.9 132.4,1166.8 135.6,1175.6 C138.8,1184.4 142.5,1191.7 145.2,1196.4 C147.9,1201.1 149.1,1202.8 151.6,1204.0 C154.1,1205.2 156.5,1203.8 160.0,1203.3 C163.5,1202.8 169.1,1201.1 172.4,1201.2 C175.7,1201.3 176.8,1201.2 180.0,1204.0 C183.2,1206.8 187.2,1213.2 191.5,1217.8 C195.8,1222.4 201.9,1228.9 206.0,1231.6 C210.1,1234.2 210.4,1233.3 216.2,1233.7 C222.0,1234.1 231.8,1234.0 240.8,1233.7 C249.8,1233.4 260.3,1232.6 270.0,1232.0 C279.7,1231.4 294.1,1230.5 298.9,1230.2" fill="none" stroke="#e0604a" stroke-width="3" stroke-linejoin="round"/>
<path d="M298.9,1215.4 C304.8,1216.2 321.5,1218.7 334.0,1220.3 C346.5,1221.9 355.0,1223.6 374.0,1225.0 C393.0,1226.4 423.7,1227.9 448.0,1228.6 C472.3,1229.3 495.7,1229.1 520.0,1229.3 C544.3,1229.5 581.3,1229.5 593.6,1229.6" fill="none" stroke="#f2ae3c" stroke-width="3" stroke-linejoin="round" stroke-dasharray="2.5,2"/>
<circle cx="581" cy="1130.4" r="0.8" fill="#bbb"/>
<polyline points="298.9,1230.2 450.0,1229.0 593.6,1229.0" fill="none" stroke="#e0604a" stroke-width="2" stroke-linejoin="round" stroke-linecap="butt" stroke-dasharray="2,3.5"/>
<text x="564.0" y="1216.2" font-size="18.84" font-weight="700" textLength="43.0" lengthAdjust="spacingAndGlyphs" fill="#e0604a" stroke="#e0604a" stroke-width="0.5">China</text>
<text x="564.4" y="1252.6" font-size="18.84" font-weight="700" textLength="38.6" lengthAdjust="spacingAndGlyphs" fill="#f2ae3c" stroke="#f2ae3c" stroke-width="0.5">India</text>
<text x="12.2" y="1386.4" font-size="20.43" font-weight="700" textLength="533.1" lengthAdjust="spacingAndGlyphs" stroke="#111" stroke-width="0.75">Porcentaje de la población en extrema pobreza, 1981 a 2019</text>
<line x1="60.8" y1="1509.2" x2="590" y2="1509.2" stroke="#bdbdbd" stroke-width="0.9" stroke-dasharray="2,2.2"/>
<text x="11.2" y="1430.8" font-size="16.81" font-weight="400" textLength="35.2" lengthAdjust="spacingAndGlyphs" stroke="#111" stroke-width="0.6">80%</text>
<text x="11.2" y="1472.4" font-size="16.81" font-weight="400" textLength="35.2" lengthAdjust="spacingAndGlyphs" stroke="#111" stroke-width="0.6">60%</text>
<text x="11.2" y="1515.2" font-size="16.81" font-weight="400" textLength="35.2" lengthAdjust="spacingAndGlyphs" stroke="#111" stroke-width="0.6">40%</text>
<text x="11.2" y="1556.4" font-size="16.81" font-weight="400" textLength="35.2" lengthAdjust="spacingAndGlyphs" stroke="#111" stroke-width="0.6">20%</text>
<text x="22.4" y="1597.8" font-size="16.81" font-weight="400" textLength="24.0" lengthAdjust="spacingAndGlyphs" stroke="#111" stroke-width="0.6">0%</text>
<circle cx="61.8" cy="1425" r="0.8" fill="#bbb"/>
<circle cx="590" cy="1425" r="0.8" fill="#bbb"/>
<circle cx="61.8" cy="1466.6" r="0.8" fill="#bbb"/>
<circle cx="590" cy="1466.6" r="0.8" fill="#bbb"/>
<circle cx="61.8" cy="1550.6" r="0.8" fill="#bbb"/>
<circle cx="590" cy="1550.6" r="0.8" fill="#bbb"/>
<rect x="60.8" y="1591.2" width="540.6" height="2.0" fill="#111"/>
<rect x="66.4" y="1592.0" width="1.7" height="11.0" fill="#111"/>
<rect x="120.8" y="1592.0" width="1.7" height="11.0" fill="#111"/>
<rect x="192.2" y="1592.0" width="1.7" height="11.0" fill="#111"/>
<rect x="262.8" y="1592.0" width="1.7" height="11.0" fill="#111"/>
<rect x="332.1" y="1592.0" width="1.7" height="11.0" fill="#111"/>
<rect x="402.9" y="1592.0" width="1.7" height="11.0" fill="#111"/>
<rect x="474.8" y="1592.0" width="1.7" height="11.0" fill="#111"/>
<rect x="543.1" y="1592.0" width="1.7" height="11.0" fill="#111"/>
<rect x="600.1" y="1592.0" width="1.7" height="11.0" fill="#111"/>
<text x="45.8" y="1621.0" font-size="16.52" font-weight="400" textLength="31.0" lengthAdjust="spacingAndGlyphs" stroke="#111" stroke-width="0.6">1981</text>
<text x="105.6" y="1621.0" font-size="16.52" font-weight="400" textLength="35.2" lengthAdjust="spacingAndGlyphs" stroke="#111" stroke-width="0.6">1985</text>
<text x="176.0" y="1621.0" font-size="16.52" font-weight="400" textLength="36.8" lengthAdjust="spacingAndGlyphs" stroke="#111" stroke-width="0.6">1990</text>
<text x="244.4" y="1621.0" font-size="16.52" font-weight="400" textLength="35.8" lengthAdjust="spacingAndGlyphs" stroke="#111" stroke-width="0.6">1995</text>
<text x="313.8" y="1621.0" font-size="16.52" font-weight="400" textLength="39.4" lengthAdjust="spacingAndGlyphs" stroke="#111" stroke-width="0.6">2000</text>
<text x="384.2" y="1621.0" font-size="16.52" font-weight="400" textLength="37.8" lengthAdjust="spacingAndGlyphs" stroke="#111" stroke-width="0.6">2005</text>
<text x="455.4" y="1621.0" font-size="16.52" font-weight="400" textLength="36.8" lengthAdjust="spacingAndGlyphs" stroke="#111" stroke-width="0.6">2010</text>
<text x="524.8" y="1621.0" font-size="16.52" font-weight="400" textLength="34.0" lengthAdjust="spacingAndGlyphs" stroke="#111" stroke-width="0.6">2015</text>
<text x="582.4" y="1621.0" font-size="16.52" font-weight="400" textLength="34.6" lengthAdjust="spacingAndGlyphs" stroke="#111" stroke-width="0.6">2019</text>
<polyline points="63.4,1468.8 80.0,1468.8 96.0,1473.6 108.8,1474.6 121.6,1477.4 150.4,1483.2 163.2,1487.4 190.0,1488.6 226.8,1491.2 263.6,1495.6 289.4,1496.7 311.5,1499.7 337.2,1500.4 348.3,1503.0 366.7,1503.0 388.7,1507.0 403.5,1511.5 418.0,1512.4 432.4,1516.7 457.6,1520.3 473.8,1528.6 488.2,1543.0 500.8,1545.5 544.0,1561.0 572.1,1570.0" fill="none" stroke="#f2ae3c" stroke-width="4" stroke-linejoin="round" stroke-linecap="butt"/>
<polyline points="63.4,1408.0 94.4,1420.2 123.2,1447.4 137.6,1454.4 163.2,1480.0 177.6,1449.6 190.0,1453.3 204.7,1458.0 226.8,1469.1 248.9,1482.0 274.7,1504.8 317.0,1507.8 333.5,1517.0 359.3,1525.4 385.1,1540.9 403.5,1553.0 428.8,1557.4 446.8,1561.0 461.2,1565.3 486.4,1574.7 504.4,1577.9 517.0,1587.3 544.0,1590.5 600.9,1590.9" fill="none" stroke="#d4141e" stroke-width="2.4" stroke-linejoin="round" stroke-linecap="butt"/>
<text x="550.1" y="1549.6" font-size="18.84" font-weight="700" textLength="38.1" lengthAdjust="spacingAndGlyphs" fill="#f2ae3c" stroke="#f2ae3c" stroke-width="0.5">India</text>
<text x="554.0" y="1587.1" font-size="18.84" font-weight="700" textLength="43.1" lengthAdjust="spacingAndGlyphs" fill="#e0604a" stroke="#e0604a" stroke-width="0.5">China</text>
<text x="8.0" y="1655.0" font-size="9.86" font-weight="700" textLength="129.0" lengthAdjust="spacingAndGlyphs" stroke="#111" stroke-width="0.15">Fuente: Our World in Data</text>
<rect x="444.0" y="1649.0" width="4.7" height="5.3" fill="#b0b8c0"/>
<text x="454.3" y="1655.0" font-size="13.33" font-weight="700" textLength="57.4" lengthAdjust="spacingAndGlyphs" stroke="#111" stroke-width="0.1">GRÁFICO</text>
<text x="514.9" y="1655.0" font-size="13.33" font-weight="700" textLength="100.7" lengthAdjust="spacingAndGlyphs" stroke="#111" stroke-width="0.8">ISABEL TOLEDO</text>
</svg></body></html>
